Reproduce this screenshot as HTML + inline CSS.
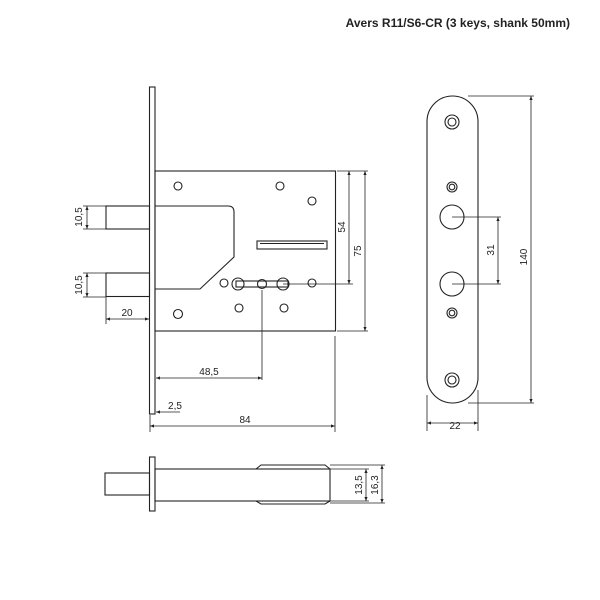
<!DOCTYPE html>
<html><head><meta charset="utf-8"><style>html,body{margin:0;padding:0;background:#fff}svg{display:block}</style></head><body>
<svg width="600" height="600" viewBox="0 0 600 600" xmlns="http://www.w3.org/2000/svg" font-family="Liberation Sans, sans-serif">
<defs><marker id="a" viewBox="0 0 10 10" refX="10" refY="5" markerWidth="7" markerHeight="5" orient="auto-start-reverse"><path d="M0,1 L10,5 L0,9 z" fill="#222"/></marker></defs>
<rect width="600" height="600" fill="#fff"/>
<text x="570" y="27" text-anchor="end" font-size="12" font-weight="bold" fill="#222">Avers R11/S6-CR (3 keys, shank 50mm)</text>
<g fill="none" stroke="#222" stroke-width="1.1">
<!-- faceplate and case -->
<rect x="149.5" y="87" width="5.5" height="327"/>
<rect x="155" y="171" width="180.5" height="160"/>
<rect x="106" y="206" width="43.5" height="23"/>
<rect x="106" y="273" width="43.5" height="23.5"/>
<path d="M155,206 H228 Q234,206 234,212 V257 L200,289 H155"/>
<circle cx="178" cy="186" r="4"/><circle cx="280" cy="186" r="4"/><circle cx="312" cy="201" r="4"/>
<circle cx="178" cy="314" r="4.5"/><circle cx="224" cy="283" r="4"/><circle cx="239" cy="308" r="4"/>
<circle cx="284" cy="308" r="4"/><circle cx="312" cy="283" r="4"/>
<rect x="257" y="241" width="70" height="8"/><line x1="260" y1="243.5" x2="324" y2="243.5"/>
<circle cx="238" cy="284" r="6"/><circle cx="262" cy="284" r="4.5"/><circle cx="283" cy="284" r="6"/>
<rect x="236" y="281" width="52" height="6"/>
<!-- bottom view -->
<rect x="149.5" y="457" width="5.5" height="54"/>
<rect x="105" y="473" width="44.5" height="22"/>
<rect x="155" y="469" width="175" height="32"/>
<path d="M256,469 L261,465 H325 L330,469 M256,501 L261,504 H325 L330,501"/>
<!-- strike plate -->
<rect x="427" y="96" width="51" height="307" rx="25.5"/>
<circle cx="452" cy="122" r="7"/><circle cx="452" cy="122" r="4"/>
<circle cx="452" cy="187" r="5"/><circle cx="452" cy="187" r="2.8"/>
<circle cx="452" cy="217" r="12"/><circle cx="452" cy="284" r="12"/>
<circle cx="452" cy="313" r="5"/><circle cx="452" cy="313" r="2.8"/>
<circle cx="452" cy="380" r="7"/><circle cx="452" cy="380" r="4"/>
</g>
<g fill="none" stroke="#222" stroke-width="0.8">
<!-- extension lines -->
<line x1="337" y1="171" x2="368" y2="171"/><line x1="283" y1="284" x2="353" y2="284"/><line x1="337" y1="331" x2="368" y2="331"/>
<line x1="83" y1="206" x2="106" y2="206"/><line x1="83" y1="229" x2="106" y2="229"/>
<line x1="83" y1="273" x2="106" y2="273"/><line x1="83" y1="297" x2="106" y2="297"/>
<line x1="106" y1="297" x2="106" y2="324"/>
<line x1="262" y1="290" x2="262" y2="380"/>
<line x1="150" y1="415" x2="150" y2="432"/><line x1="335" y1="336" x2="335" y2="432"/>
<line x1="468" y1="96" x2="534" y2="96"/><line x1="468" y1="403" x2="534" y2="403"/>
<line x1="452" y1="217" x2="501" y2="217"/><line x1="452" y1="284" x2="501" y2="284"/>
<line x1="427" y1="395" x2="427" y2="431"/><line x1="478" y1="390" x2="478" y2="431"/>
<line x1="330" y1="465" x2="385" y2="465"/><line x1="330" y1="469" x2="369" y2="469"/>
<line x1="330" y1="501" x2="369" y2="501"/><line x1="330" y1="503" x2="385" y2="503"/>
<!-- dimension lines -->
<line x1="349" y1="171" x2="349" y2="284" marker-start="url(#a)" marker-end="url(#a)"/>
<line x1="365" y1="171" x2="365" y2="331" marker-start="url(#a)" marker-end="url(#a)"/>
<line x1="87" y1="206" x2="87" y2="229" marker-start="url(#a)" marker-end="url(#a)"/>
<line x1="87" y1="273" x2="87" y2="297" marker-start="url(#a)" marker-end="url(#a)"/>
<line x1="106" y1="319" x2="149" y2="319" marker-start="url(#a)" marker-end="url(#a)"/>
<line x1="156" y1="378" x2="262" y2="378" marker-start="url(#a)" marker-end="url(#a)"/>
<line x1="180" y1="412" x2="156" y2="412" marker-end="url(#a)"/>
<line x1="150" y1="426" x2="335" y2="426" marker-start="url(#a)" marker-end="url(#a)"/>
<line x1="531" y1="96" x2="531" y2="403" marker-start="url(#a)" marker-end="url(#a)"/>
<line x1="498" y1="217" x2="498" y2="284" marker-start="url(#a)" marker-end="url(#a)"/>
<line x1="427" y1="423" x2="478" y2="423" marker-start="url(#a)" marker-end="url(#a)"/>
<line x1="366" y1="469" x2="366" y2="501" marker-start="url(#a)" marker-end="url(#a)"/>
<line x1="382" y1="465" x2="382" y2="503" marker-start="url(#a)" marker-end="url(#a)"/>
</g>
<g font-size="10" fill="#222" text-anchor="middle">
<text x="127" y="316">20</text>
<text x="209" y="375">48,5</text>
<text x="175" y="409">2,5</text>
<text x="245" y="423">84</text>
<text x="455" y="429">22</text>
<text transform="translate(345,227) rotate(-90)">54</text>
<text transform="translate(361,251) rotate(-90)">75</text>
<text transform="translate(82,217) rotate(-90)">10,5</text>
<text transform="translate(82,285) rotate(-90)">10,5</text>
<text transform="translate(494,250) rotate(-90)">31</text>
<text transform="translate(527,257) rotate(-90)">140</text>
<text transform="translate(362,485) rotate(-90)">13,5</text>
<text transform="translate(378,485) rotate(-90)">16,3</text>
</g>
</svg>
</body></html>
